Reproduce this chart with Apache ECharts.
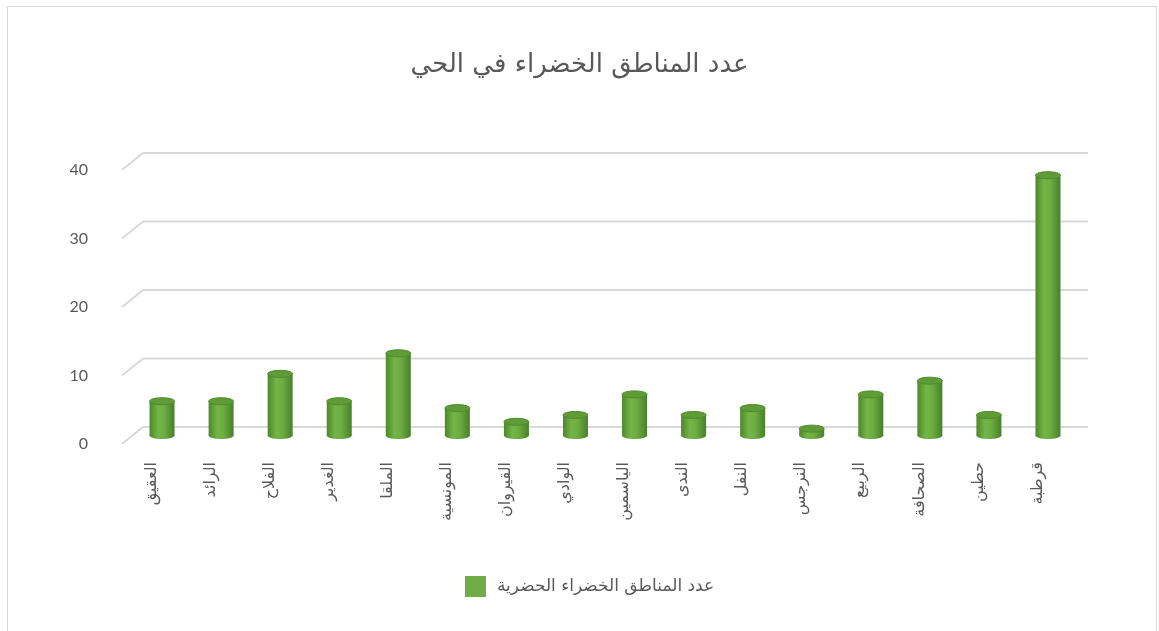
<!DOCTYPE html>
<html>
<head>
<meta charset="utf-8">
<script src="https://cdn.jsdelivr.net/npm/echarts@6/dist/echarts.min.js"></script>
<style>
  html, body { margin: 0; padding: 0; background: #fff; }
  #frame { position: absolute; left: 7px; top: 6px; width: 1150px; height: 640px; border: 1px solid #d9d9d9; box-sizing: border-box; }
  #chart { position: absolute; left: 0; top: 0; width: 1159px; height: 631px; }
</style>
</head>
<body>
<div id="frame"></div>
<div id="chart"></div>
<script>
const titleText = 'عدد المناطق الخضراء في الحي'
const seriesName = 'عدد المناطق الخضراء الحضرية'
const categories = ['العقيق', 'الرائد', 'الفلاح', 'الغدير', 'الملقا', 'المونسية', 'القيروان', 'الوادي', 'الياسمين', 'الندى', 'النفل', 'النرجس', 'الربيع', 'الصحافة', 'حطين', 'قرطبة']
const values = [5, 5, 9, 5, 12, 4, 2, 3, 6, 3, 4, 1, 6, 8, 3, 38]
const yTicks = [0, 10, 20, 30, 40]

// depth offset between the middle plane (bars) and the back wall
const DX = 10.5
const DY = -8.5
const textColor = '#595959'

const chart = echarts.init(document.getElementById('chart'))

function renderGridLine(params, api) {
  const cs = params.coordSys
  const y = api.coord([0, api.value(1)])[1]
  const style = { stroke: '#d9d9d9', lineWidth: 2 }
  return {
    type: 'group',
    children: [
      { type: 'line', shape: { x1: cs.x + DX, y1: y + DY, x2: cs.x + cs.width + DX, y2: y + DY }, style },
      { type: 'line', shape: { x1: cs.x - DX, y1: y - DY, x2: cs.x + DX, y2: y + DY }, style }
    ]
  }
}

function renderCylinder(params, api) {
  const idx = api.value(0)
  const top = api.coord([idx, api.value(1)])
  const base = api.coord([idx, 0])
  const w = 25
  const ry = 3.5
  const body = new echarts.graphic.LinearGradient(0, 0, 1, 0, [
    { offset: 0, color: '#4d8829' },
    { offset: 0.35, color: '#74b548' },
    { offset: 0.6, color: '#6cac41' },
    { offset: 1, color: '#47802a' }
  ])
  return {
    type: 'group',
    children: [
      { type: 'ellipse', shape: { cx: top[0], cy: base[1], rx: w / 2, ry }, style: { fill: body } },
      { type: 'rect', shape: { x: top[0] - w / 2, y: top[1], width: w, height: base[1] - top[1] }, style: { fill: body } },
      { type: 'ellipse', shape: { cx: top[0], cy: top[1], rx: w / 2, ry }, style: { fill: '#5f9c37', stroke: '#50892d', lineWidth: 1 } }
    ]
  }
}

const option = {
  animation: false,
  title: {
    text: titleText,
    left: 'center',
    top: 47,
    textStyle: { fontSize: 26, fontWeight: 'normal', color: textColor, fontFamily: 'DejaVu Sans' }
  },
  legend: {
    left: 460,
    top: 571,
    itemWidth: 21,
    itemHeight: 21,
    itemGap: 10,
    data: [{ name: seriesName, icon: 'rect', itemStyle: { color: '#70ad47' } }],
    textStyle: { fontSize: 17, color: textColor, fontFamily: 'DejaVu Sans', padding: [0, 0, 0, 6] }
  },
  grid: [
    // front plane: axis labels
    { left: 122, top: 170, width: 945, height: 274 },
    // middle plane: bars and wall lines
    { left: 132.5, top: 161.5, width: 945, height: 274 }
  ],
  xAxis: [
    {
      gridIndex: 0,
      type: 'category',
      data: categories,
      axisLine: { show: false },
      axisTick: { show: false },
      axisLabel: { interval: 0, rotate: 90, margin: 18, fontSize: 16, color: textColor, fontFamily: 'DejaVu Sans' }
    },
    {
      gridIndex: 1,
      type: 'category',
      data: categories,
      show: false
    }
  ],
  yAxis: [
    {
      gridIndex: 0,
      type: 'value',
      min: 0,
      max: 40,
      interval: 10,
      axisLine: { show: false },
      axisTick: { show: false },
      splitLine: { show: false },
      axisLabel: { margin: 34, fontSize: 16, color: textColor, fontFamily: 'Lato' }
    },
    {
      gridIndex: 1,
      type: 'value',
      min: 0,
      max: 40,
      interval: 10,
      show: false,
      splitLine: { show: false }
    }
  ],
  series: [
    {
      name: 'walls',
      type: 'custom',
      xAxisIndex: 1,
      yAxisIndex: 1,
      silent: true,
      renderItem: renderGridLine,
      encode: { x: 0, y: 1 },
      data: yTicks.map(v => [0, v]),
      z: 1
    },
    {
      name: seriesName,
      type: 'custom',
      xAxisIndex: 1,
      yAxisIndex: 1,
      renderItem: renderCylinder,
      encode: { x: 0, y: 1 },
      itemStyle: { color: '#70ad47' },
      data: values.map((v, i) => [i, v]),
      z: 2
    }
  ]
}

chart.setOption(option)
window.addEventListener('resize', () => chart.resize())
</script>
</body>
</html>
